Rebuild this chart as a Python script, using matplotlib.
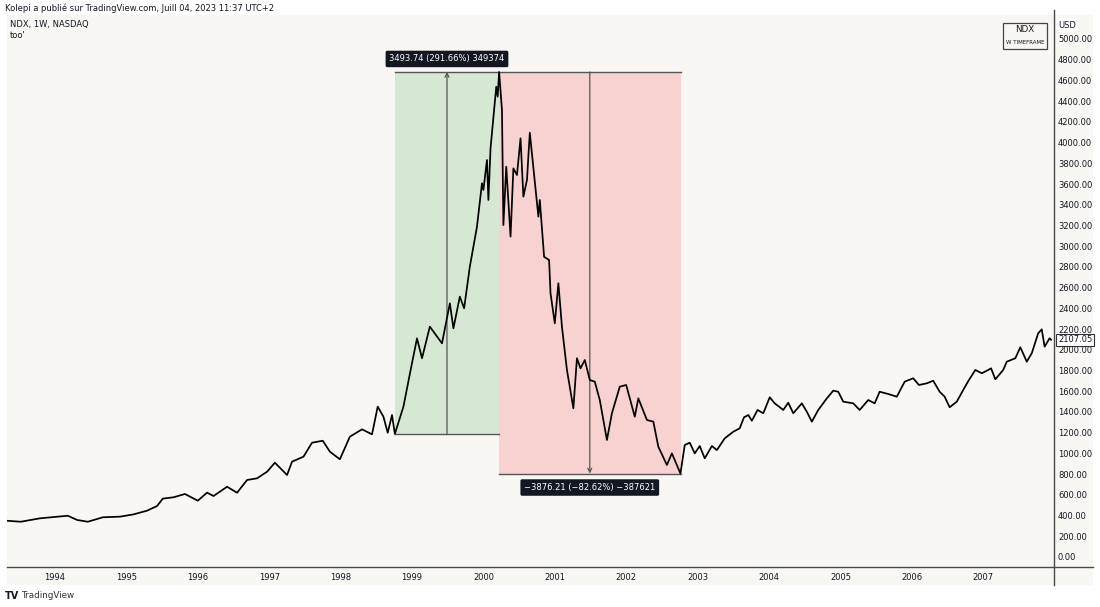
import matplotlib
matplotlib.use("Agg")
import matplotlib.pyplot as plt
from matplotlib.patches import Rectangle
from matplotlib.lines import Line2D

# ---------------- data ----------------
years = [1993.32, 1993.52, 1993.79, 1994.18, 1994.31, 1994.46, 1994.67, 1994.91,
         1995.10, 1995.29, 1995.43, 1995.51, 1995.66, 1995.82, 1996.00, 1996.13,
         1996.22, 1996.41, 1996.55, 1996.69, 1996.83, 1996.97, 1997.08, 1997.25,
         1997.32, 1997.48, 1997.60, 1997.75, 1997.85, 1997.99, 1998.13, 1998.30,
         1998.44, 1998.52, 1998.60, 1998.66, 1998.72, 1998.76,
         1998.88, 1998.99, 1999.07, 1999.14, 1999.25, 1999.42, 1999.53, 1999.58,
         1999.67, 1999.73, 1999.81, 1999.91, 1999.98, 2000.00, 2000.05, 2000.07,
         2000.10, 2000.18, 2000.20, 2000.22,
         2000.26, 2000.28, 2000.32, 2000.38, 2000.42, 2000.47, 2000.52, 2000.56,
         2000.61, 2000.65, 2000.71, 2000.77, 2000.79, 2000.85, 2000.92, 2000.94,
         2001.00, 2001.05, 2001.10, 2001.17, 2001.26, 2001.31, 2001.36, 2001.42,
         2001.49, 2001.56, 2001.63, 2001.73, 2001.80, 2001.91, 2002.00, 2002.12,
         2002.17, 2002.29, 2002.38, 2002.45, 2002.57, 2002.64, 2002.76,
         2002.82, 2002.89, 2002.96, 2003.03, 2003.10, 2003.20, 2003.27, 2003.38,
         2003.50, 2003.59, 2003.65, 2003.71, 2003.76, 2003.84, 2003.92, 2004.01,
         2004.08, 2004.20, 2004.27, 2004.34, 2004.46, 2004.53, 2004.60, 2004.69,
         2004.81, 2004.90, 2004.97, 2005.04, 2005.18, 2005.27, 2005.39, 2005.48,
         2005.55, 2005.67, 2005.79, 2005.90, 2006.02, 2006.10, 2006.21, 2006.30,
         2006.39, 2006.46, 2006.53, 2006.63, 2006.72, 2006.80, 2006.89, 2006.98,
         2007.07, 2007.11, 2007.17, 2007.28, 2007.33, 2007.45, 2007.52, 2007.61,
         2007.68, 2007.77, 2007.82, 2007.86, 2007.93, 2007.95]
closes = [360, 350, 383, 408, 367, 350, 393, 399,
          421, 457, 502, 573, 586, 618, 553, 631,
          598, 688, 630, 753, 769, 833, 920, 801,
          930, 978, 1113, 1132, 1026, 953, 1171, 1242,
          1194, 1461, 1364, 1209, 1380, 1197.9,
          1461, 1847, 2120, 1928, 2233, 2072, 2458, 2217,
          2523, 2410, 2812, 3198, 3617, 3552, 3842, 3456,
          3955, 4549, 4453, 4691.6,
          4324, 3214, 3777, 3102, 3761, 3697, 4051, 3488,
          3649, 4105, 3697, 3295, 3456, 2908, 2876, 2555,
          2265, 2652, 2233, 1815, 1445, 1928, 1831, 1911,
          1718, 1702, 1525, 1139, 1397, 1654, 1670, 1364,
          1541, 1332, 1316, 1074, 898, 1010, 815.4,
          1091, 1113, 1010, 1081, 962, 1081, 1042, 1155,
          1219, 1252, 1358, 1380, 1325, 1429, 1397, 1551,
          1493, 1429, 1499, 1397, 1493, 1412, 1316, 1429,
          1541, 1615, 1605, 1509, 1493, 1429, 1525, 1493,
          1605, 1583, 1557, 1702, 1735, 1670, 1686, 1711,
          1605, 1557, 1455, 1509, 1622, 1718, 1815, 1783,
          1815, 1831, 1725, 1815, 1895, 1928, 2034, 1895,
          1976, 2169, 2207, 2040, 2121, 2107.05]

year_ticks = list(range(1994, 2008))
price_ticks = list(range(0, 5001, 200))

rise_start, rise_end = 1998.76, 2000.22      # green range
fall_start, fall_end = 2000.22, 2002.77      # red range
low_1998, peak_2000, low_2002 = 1197.9, 4691.6, 815.4
rise_label = "3493.74 (291.66%) 349374"
fall_label = "\u22123876.21 (\u221282.62%) \u2212387621"
last_price = 2107.05

# ---------------- layout helpers ----------------
W, H = 1100, 607
fig = plt.figure(figsize=(W / 100, H / 100), dpi=100, facecolor="white")
def fx(px): return px / W
def fy(py): return 1 - py / H

FONT = "DejaVu Sans"
TXT = "#131722"
CREAM = "#f8f7f3"
FS = 6.0

# cream chart panel (behind everything)
fig.patches.append(Rectangle((fx(7), fy(585)), fx(1093) - fx(7), fy(15) - fy(585),
                             transform=fig.transFigure, facecolor=CREAM,
                             edgecolor="none", zorder=-5))

# main axes: px x 7..1054, y 17..567
ax = fig.add_axes([fx(7), fy(567), fx(1054) - fx(7), fy(17) - fy(567)])
ax.set_zorder(2)
ax.set_facecolor("none")
x_per_year = 71.4
ax.set_xlim(1994 - 48 / x_per_year, 1994 + 999 / x_per_year)
ppv = 0.1036  # px per unit
ax.set_ylim(-(567 - 558) / ppv, (558 - 17) / ppv)
for s in ax.spines.values():
    s.set_visible(False)
ax.set_xticks([])
ax.set_yticks([])

# ranges
ax.add_patch(Rectangle((rise_start, low_1998), rise_end - rise_start, peak_2000 - low_1998,
                       facecolor="#d6e8d3", edgecolor="none", zorder=1))
ax.add_patch(Rectangle((fall_start, low_2002), fall_end - fall_start, peak_2000 - low_2002,
                       facecolor="#f7d2d1", edgecolor="none", zorder=1))
lc = "#555555"
ax.plot([rise_start, fall_end], [peak_2000, peak_2000], color=lc, lw=1.0, zorder=2)
ax.plot([rise_start, rise_end], [low_1998, low_1998], color=lc, lw=1.0, zorder=2)
ax.plot([fall_start, fall_end], [low_2002, low_2002], color=lc, lw=1.0, zorder=2)
mid_rise = 1999.49
mid_fall = 2001.49
ax.annotate("", xy=(mid_rise, peak_2000), xytext=(mid_rise, low_1998),
            arrowprops=dict(arrowstyle="->", color=lc, lw=0.9, shrinkA=0, shrinkB=0,
                            mutation_scale=7), zorder=2)
ax.annotate("", xy=(mid_fall, low_2002), xytext=(mid_fall, peak_2000),
            arrowprops=dict(arrowstyle="->", color=lc, lw=0.9, shrinkA=0, shrinkB=0,
                            mutation_scale=7), zorder=2)

# price line
ax.plot(years, closes, color="black", lw=1.25, zorder=3, solid_joinstyle="round")

# range labels
ax.text(mid_rise, peak_2000 + 13 / ppv, rise_label, ha="center", va="center",
        fontsize=FS, color="white", family=FONT, zorder=5,
        bbox=dict(boxstyle="round,pad=0.45,rounding_size=0.2", fc="#131722", ec="none"))
ax.text(mid_fall, low_2002 - 14 / ppv, fall_label, ha="center", va="center",
        fontsize=FS, color="white", family=FONT, zorder=5,
        bbox=dict(boxstyle="round,pad=0.45,rounding_size=0.2", fc="#131722", ec="none"))

# axis separator lines
fig.add_artist(Line2D([fx(7), fx(1093)], [fy(567), fy(567)], transform=fig.transFigure,
                      color="#4a4a4a", lw=1.0))
fig.add_artist(Line2D([fx(1054), fx(1054)], [fy(10), fy(585)], transform=fig.transFigure,
                      color="#4a4a4a", lw=1.0))

# year labels
for yr in year_ticks:
    xd = ax.transData.transform((yr, 0))[0]
    xf = fig.transFigure.inverted().transform((xd, 0))[0]
    fig.text(xf, fy(577), str(yr), ha="center", va="center", fontsize=FS,
             color=TXT, family=FONT)

# price labels
for p in price_ticks:
    yd = ax.transData.transform((0, p))[1]
    yf = fig.transFigure.inverted().transform((0, yd))[1]
    fig.text(fx(1058), yf, f"{p:.2f}", ha="left", va="center", fontsize=FS,
             color=TXT, family=FONT)
fig.text(fx(1058), fy(25), "USD", ha="left", va="center", fontsize=FS, color=TXT,
         family=FONT, bbox=dict(boxstyle="square,pad=0.3", fc="white", ec="none"))

# last price box
yd = ax.transData.transform((0, last_price))[1]
yf = fig.transFigure.inverted().transform((0, yd))[1]
fig.text(fx(1058), yf, f"{last_price:.2f}", ha="left", va="center", fontsize=FS,
         color=TXT, family=FONT,
         bbox=dict(boxstyle="square,pad=0.2", fc="white", ec="#333333", lw=0.8))

# NDX box
fig.patches.append(Rectangle((fx(1003), fy(49)), fx(1047) - fx(1003), fy(23) - fy(49),
                             transform=fig.transFigure, facecolor="none",
                             edgecolor="#444444", lw=0.9))
fig.text(fx(1025), fy(30), "NDX", ha="center", va="center", fontsize=6.3,
         color=TXT, family=FONT)
fig.text(fx(1025), fy(42), "W TIMEFRAME", ha="center", va="center", fontsize=4.0,
         color=TXT, family=FONT)

# header texts
fig.text(fx(5), fy(8), "Kolepi a publi\u00e9 sur TradingView.com, Juill 04, 2023 11:37 UTC+2",
         ha="left", va="center", fontsize=FS, color=TXT, family=FONT)
fig.text(fx(10), fy(24), "NDX, 1W, NASDAQ", ha="left", va="center", fontsize=FS,
         color=TXT, family=FONT)
fig.text(fx(10), fy(35), "too'", ha="left", va="center", fontsize=FS,
         color=TXT, family=FONT)

# footer
fig.text(fx(5), fy(596), "TV", ha="left", va="center", fontsize=7, fontweight="bold",
         color="#131722", family=FONT)
fig.text(fx(21), fy(596), "TradingView", ha="left", va="center", fontsize=6.3,
         color="#333333", family=FONT)

fig.savefig("out.png", dpi=100, facecolor="white")
